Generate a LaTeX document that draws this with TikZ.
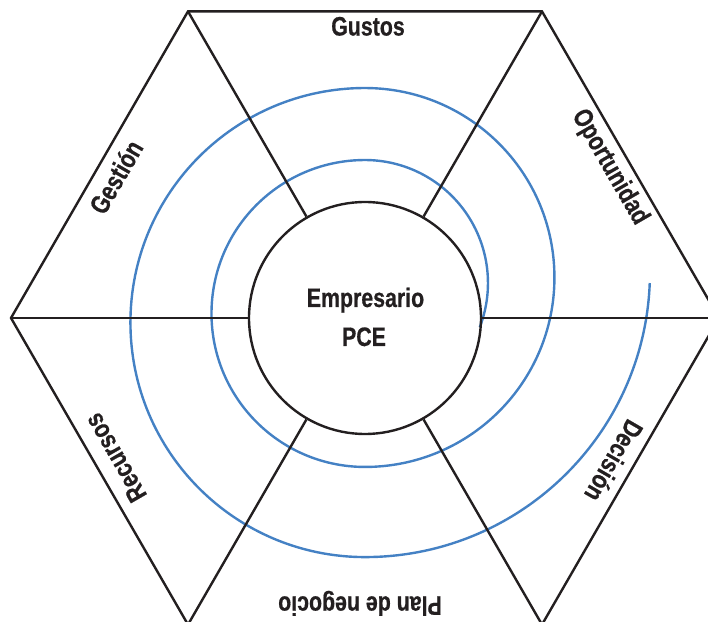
\documentclass[tikz,border=0pt]{standalone}
\usepackage{fontspec}
\newfontfamily\labfont{Liberation Sans Bold}[FakeStretch=0.8, FakeBold=0.6]
\definecolor{spiralblue}{RGB}{68,129,196}
\definecolor{ink}{RGB}{35,31,32}
\begin{document}
\begin{tikzpicture}[x=0.75pt,y=0.75pt,
  edge/.style={draw=ink,line width=1.8pt},
  spiralline/.style={draw=spiralblue,line width=1.8pt},
  lab/.style={font=\labfont\fontsize{20}{24}\selectfont, text=ink, inner sep=0pt, text height=14.3pt, text depth=0pt, anchor=center}]
\useasboundingbox (0,0) rectangle (708,622);
\clip (0,0) rectangle (708,622);
\coordinate (R) at (719,304);
\coordinate (TR) at (542,610.6);
\coordinate (TL) at (188,610.6);
\coordinate (L) at (11,304);
\coordinate (BL) at (188,-2.6);
\coordinate (BR) at (542,-2.6);
\coordinate (S0) at (479.8,294.9);
% spiral
\draw[spiralline] (S0)
  arc[start angle=-21, end angle=90, radius=92.25pt]
  arc[start angle=90, end angle=270, radius=115.1pt]
  arc[start angle=270, end angle=450, radius=142.1pt]
  arc[start angle=90, end angle=270, radius=175.9pt]
  arc[start angle=270, end angle=357.8, radius=213.75pt];
% centre circle
\node[edge, circle, minimum size=174pt, inner sep=0pt] (C) at (365,304) {};
% hexagon
\draw[edge] (R)--(TR)--(TL)--(L)--(BL)--(BR)--cycle;
\foreach \v in {R,TR,TL,L,BL,BR} \draw[edge] (\v) -- (C);
% labels
\node[lab] (gustos) at (368,596) {Gustos};
\node[lab, rotate=60] (gestion) at (116,445) {Gestión};
\node[lab, rotate=-60] (oport) at (612,456) {Oportunidad};
\node[lab, rotate=-120] (decision) at (614,161) {Decisión};
\node[lab, rotate=180] (plan) at (360,16) {Plan de negocio};
\node[lab, rotate=120] (recursos) at (115,164) {Recursos};
\node[lab, anchor=base] (emp) at (365.5,315) {Empresario};
\node[lab, anchor=base] (pce) at (364,276) {PCE};
\end{tikzpicture}
\end{document}
